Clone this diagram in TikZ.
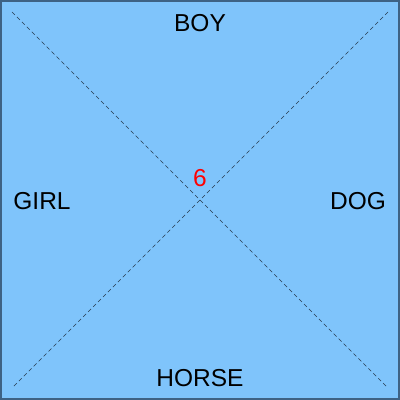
\documentclass[tikz,border=0pt]{standalone}
\usepackage{fontspec}
\setmainfont{Liberation Sans}
\usepackage{xcolor}
\usetikzlibrary{positioning}
\definecolor{panelfill}{RGB}{127,196,251}
\definecolor{paneledge}{RGB}{62,98,132}
\definecolor{diagline}{RGB}{40,60,80}
\tikzset{
  word/.style={font=\fontsize{24.5}{28}\selectfont, text=black, inner sep=0pt},
  diag/.style={draw=diagline, line width=0.7pt, dash pattern=on 4pt off 3pt}
}

\begin{document}
\begin{tikzpicture}[x=1pt,y=1pt]
\useasboundingbox (0,0) rectangle (400,400);
\draw[fill=panelfill, draw=paneledge, line width=2.4pt] (1.2,1.2) rectangle (398.8,398.8);
\coordinate (tl) at (12,388); \coordinate (br) at (388,12);
\coordinate (tr) at (388,388); \coordinate (bl) at (12,12);
\draw[diag] (tl)--(br); \draw[diag] (tr)--(bl);
\node[word] (boy) at (200,377) {BOY};
\node[word] (girl) at (42,199) {GIRL};
\node[word] (dog) at (358,199) {DOG};
\node[word] (horse) at (200,22) {HORSE};
\node[word, text=red] (six) at (200,222) {6};
\end{tikzpicture}
\end{document}
